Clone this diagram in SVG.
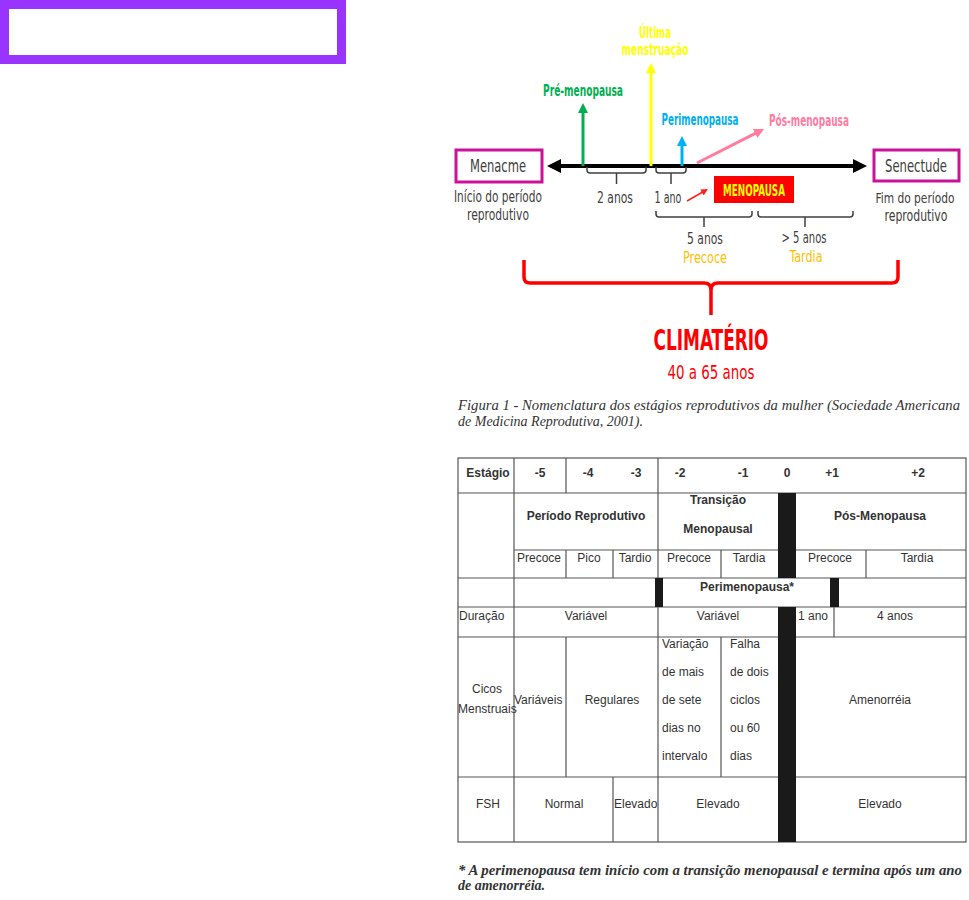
<svg xmlns="http://www.w3.org/2000/svg" width="969" height="900" viewBox="0 0 969 900">
<style>
.cd{font-family:"DejaVu Sans Condensed","DejaVu Sans",sans-serif;font-stretch:condensed;fill:#404040;text-anchor:middle}
.cdb{font-family:"DejaVu Sans Condensed","DejaVu Sans",sans-serif;font-stretch:condensed;font-weight:bold;text-anchor:middle}
.box{fill:#fff;stroke:#CC1199;stroke-width:3}
.br{fill:none;stroke:#404040;stroke-width:1.5}
.t{font-family:"Liberation Sans",Arial,sans-serif;font-size:12px;fill:#333}
.tb{font-family:"Liberation Sans",Arial,sans-serif;font-size:12px;font-weight:bold;fill:#333}
.m{text-anchor:middle}
.grid{fill:none;stroke:#555;stroke-width:1.2}
.bar{fill:#1a1a1a}
.cap{font-family:"Liberation Serif","Times New Roman",serif;font-style:italic;font-size:14px;fill:#333}
</style>
<defs>
<marker id="hk" markerUnits="userSpaceOnUse" markerWidth="14" markerHeight="14" refX="4" refY="7" orient="auto-start-reverse"><path d="M0,0 L14,7 L0,14 z" fill="#000"/></marker>
<marker id="hg" markerUnits="userSpaceOnUse" markerWidth="10" markerHeight="10" refX="3" refY="5" orient="auto"><path d="M0,0 L10,5 L0,10 z" fill="#00B050"/></marker>
<marker id="hy" markerUnits="userSpaceOnUse" markerWidth="10" markerHeight="10" refX="3" refY="5" orient="auto"><path d="M0,0 L10,5 L0,10 z" fill="#FFFF00"/></marker>
<marker id="hb" markerUnits="userSpaceOnUse" markerWidth="10" markerHeight="10" refX="3" refY="5" orient="auto"><path d="M0,0 L10,5 L0,10 z" fill="#00B0F0"/></marker>
<marker id="hp" markerUnits="userSpaceOnUse" markerWidth="10" markerHeight="10" refX="3" refY="5" orient="auto"><path d="M0,0 L10,5 L0,10 z" fill="#FF7CA0"/></marker>
<marker id="hr" markerUnits="userSpaceOnUse" markerWidth="7" markerHeight="7" refX="3" refY="3.5" orient="auto"><path d="M0,0 L7,3.5 L0,7 z" fill="#FF2020"/></marker>
</defs>
<rect width="969" height="900" fill="#fff"/>

<g id="purple-box"><rect x="4.5" y="4.5" width="337" height="55" fill="#fff" stroke="#9933FF" stroke-width="9"/></g>

<g id="connectors">
<line x1="557" y1="166" x2="857" y2="166" stroke="#000" stroke-width="4" marker-start="url(#hk)" marker-end="url(#hk)"/>
<line x1="583" y1="166" x2="583" y2="110" stroke="#00B050" stroke-width="3" marker-end="url(#hg)"/>
<line x1="651" y1="166" x2="651" y2="70" stroke="#FFFF00" stroke-width="3" marker-end="url(#hy)"/>
<line x1="682" y1="166" x2="682" y2="143" stroke="#00B0F0" stroke-width="3" marker-end="url(#hb)"/>
<line x1="697" y1="163" x2="757.8" y2="132.2" stroke="#FF7CA0" stroke-width="3" marker-end="url(#hp)"/>
<line x1="687" y1="201" x2="704.5" y2="191" stroke="#FF2020" stroke-width="1.5" marker-end="url(#hr)"/>
<path class="br" d="M587,167 v3 q0,3 3,3 h53 q3,0 3,-3 v-3 M616.5,173 v11"/>
<path class="br" d="M656,167 v3 q0,3 3,3 h24 q3,0 3,-3 v-3 M671,173 v11"/>
<path class="br" d="M656,211 v3 q0,3 3,3 h90 q3,0 3,-3 v-3 M704,217 v10"/>
<path class="br" d="M758,211 v3 q0,3 3,3 h89 q3,0 3,-3 v-3 M805,217 v10"/>
<path d="M524,260 L524,277 Q524,283 530,283 L704,283 Q711,283 711,290 L711,315 M711,290 Q711,283 718,283 L892,283 Q898,283 898,277 L898,260" fill="none" stroke="#FF0000" stroke-width="3.5"/>
</g>

<g id="menacme"><rect class="box" x="456" y="150" width="86" height="32"/><text class="cd" x="498" y="172" font-size="18" textLength="56" lengthAdjust="spacingAndGlyphs">Menacme</text>
<text class="cd" x="498" y="202" font-size="15" textLength="88" lengthAdjust="spacingAndGlyphs">Início do período</text>
<text class="cd" x="498" y="220" font-size="15" textLength="62" lengthAdjust="spacingAndGlyphs">reprodutivo</text></g>

<g id="senectude"><rect class="box" x="874" y="150" width="85" height="31"/><text class="cd" x="916" y="172" font-size="17" textLength="62" lengthAdjust="spacingAndGlyphs">Senectude</text>
<text class="cd" x="915" y="203" font-size="14" textLength="79" lengthAdjust="spacingAndGlyphs">Fim do período</text>
<text class="cd" x="916" y="221" font-size="15" textLength="63" lengthAdjust="spacingAndGlyphs">reprodutivo</text></g>

<g id="pre-menopausa"><text class="cdb" x="583" y="96" font-size="15" fill="#00B050" textLength="80" lengthAdjust="spacingAndGlyphs">Pré-menopausa</text></g>
<g id="ultima-menstruacao"><text class="cdb" x="655" y="38" font-size="15" fill="#FFFF00" textLength="32" lengthAdjust="spacingAndGlyphs">Última</text>
<text class="cdb" x="655" y="55" font-size="15" fill="#FFFF00" textLength="67" lengthAdjust="spacingAndGlyphs">menstruação</text></g>
<g id="perimenopausa"><text class="cdb" x="700" y="125" font-size="15" fill="#00B0F0" textLength="77" lengthAdjust="spacingAndGlyphs">Perimenopausa</text></g>
<g id="pos-menopausa"><text class="cdb" x="809" y="126" font-size="15" fill="#FF7CA0" textLength="80" lengthAdjust="spacingAndGlyphs">Pós-menopausa</text></g>

<g id="dois-anos"><text class="cd" x="615" y="203" font-size="15" textLength="36" lengthAdjust="spacingAndGlyphs">2 anos</text></g>
<g id="um-ano"><text class="cd" x="668" y="203" font-size="15" textLength="27" lengthAdjust="spacingAndGlyphs">1 ano</text></g>
<g id="menopausa"><rect x="714" y="176" width="80" height="27" fill="#FF0000"/><text class="cdb" x="754" y="196" font-size="16" fill="#FFFF00" textLength="62" lengthAdjust="spacingAndGlyphs">MENOPAUSA</text></g>
<g id="cinco-anos"><text class="cd" x="705" y="244" font-size="15" textLength="36" lengthAdjust="spacingAndGlyphs">5 anos</text>
<text class="cd" x="705" y="263" font-size="15" style="fill:#FFC000" textLength="44" lengthAdjust="spacingAndGlyphs">Precoce</text></g>
<g id="mais-cinco-anos"><text class="cd" x="804" y="243" font-size="15" textLength="45" lengthAdjust="spacingAndGlyphs">&gt; 5 anos</text>
<text class="cd" x="806" y="262" font-size="15" style="fill:#FFC000" textLength="33" lengthAdjust="spacingAndGlyphs">Tardia</text></g>

<g id="climaterio"><text class="cdb" x="711" y="350" font-size="29" fill="#FF0000" textLength="115" lengthAdjust="spacingAndGlyphs">CLIMATÉRIO</text>
<text class="cd" x="711" y="379" font-size="19" style="fill:#FF0000" textLength="87" lengthAdjust="spacingAndGlyphs">40 a 65 anos</text></g>

<g id="caption"><text class="cap" x="458" y="410" textLength="502" lengthAdjust="spacingAndGlyphs">Figura 1 - Nomenclatura dos estágios reprodutivos da mulher (Sociedade Americana</text>
<text class="cap" x="458" y="426">de Medicina Reprodutiva, 2001).</text></g>

<g id="table">
<rect class="grid" x="458" y="458" width="508" height="384"/>
<path class="grid" d="M458,493 H966 M514,550 H966 M458,578 H966 M458,607 H966 M458,637 H966 M458,777 H966
M514,458 V842 M566,458 V493 M566,550 V578 M566,637 V777 M613,550 V578 M613,777 V842
M658,458 V578 M658,607 V842 M721,550 V578 M721,637 V777 M834,607 V637 M866,550 V578"/>
<rect class="bar" x="778" y="493" width="18" height="85"/>
<rect class="bar" x="778" y="607" width="18" height="235"/>
<rect class="bar" x="655" y="578" width="8" height="29"/>
<rect class="bar" x="830" y="578" width="9" height="29"/>

<text class="tb m" x="488" y="477">Estágio</text>
<text class="tb m" x="540" y="477">-5</text>
<text class="tb m" x="588" y="477">-4</text>
<text class="tb m" x="636" y="477">-3</text>
<text class="tb m" x="680" y="477">-2</text>
<text class="tb m" x="743" y="477">-1</text>
<text class="tb m" x="787" y="477">0</text>
<text class="tb m" x="832" y="477">+1</text>
<text class="tb m" x="918" y="477">+2</text>

<text class="tb m" x="586" y="520">Período Reprodutivo</text>
<text class="tb m" x="718" y="504">Transição</text>
<text class="tb m" x="718" y="533">Menopausal</text>
<text class="tb m" x="880" y="520">Pós-Menopausa</text>

<text class="t m" x="539" y="562">Precoce</text>
<text class="t m" x="589" y="562">Pico</text>
<text class="t m" x="635" y="562">Tardio</text>
<text class="t m" x="689" y="562">Precoce</text>
<text class="t m" x="749" y="562">Tardia</text>
<text class="t m" x="830" y="562">Precoce</text>
<text class="t m" x="917" y="562">Tardia</text>

<text class="tb m" x="747" y="591">Perimenopausa*</text>

<text class="t" x="459" y="620">Duração</text>
<text class="t m" x="586" y="620">Variável</text>
<text class="t m" x="718" y="620">Variável</text>
<text class="t" x="798" y="620">1 ano</text>
<text class="t m" x="895" y="620">4 anos</text>

<text class="t m" x="487" y="693">Cicos</text>
<text class="t" x="458" y="713">Menstruais</text>
<text class="t" x="514" y="704">Variáveis</text>
<text class="t m" x="612" y="704">Regulares</text>
<text class="t" x="662" y="648">Variação</text>
<text class="t" x="662" y="676">de mais</text>
<text class="t" x="662" y="704">de sete</text>
<text class="t" x="662" y="732">dias no</text>
<text class="t" x="662" y="760">intervalo</text>
<text class="t" x="730" y="648">Falha</text>
<text class="t" x="730" y="676">de dois</text>
<text class="t" x="730" y="704">ciclos</text>
<text class="t" x="730" y="732">ou 60</text>
<text class="t" x="730" y="760">dias</text>
<text class="t m" x="880" y="704">Amenorréia</text>

<text class="t m" x="488" y="808">FSH</text>
<text class="t m" x="564" y="808">Normal</text>
<text class="t" x="614" y="808">Elevado</text>
<text class="t m" x="718" y="808">Elevado</text>
<text class="t m" x="880" y="808">Elevado</text>
</g>

<g id="footnote"><text class="cap" x="458" y="875" font-weight="bold" textLength="504" lengthAdjust="spacingAndGlyphs">* A perimenopausa tem início com a transição menopausal e termina após um ano</text>
<text class="cap" x="458" y="890" font-weight="bold">de amenorréia.</text></g>
</svg>
